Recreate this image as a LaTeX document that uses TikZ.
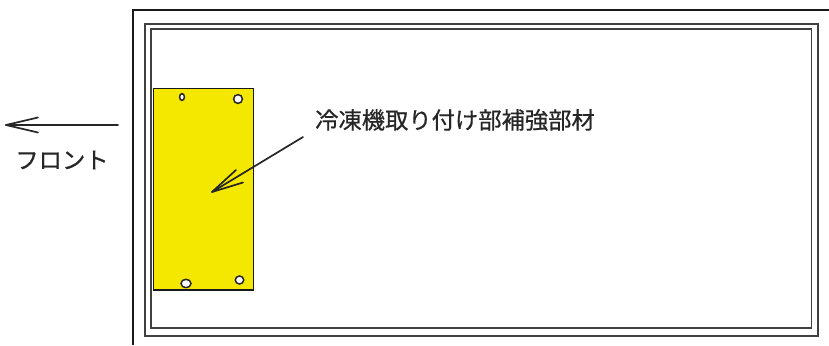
\documentclass[tikz,border=0pt]{standalone}
\usepackage{fontspec}
\setmainfont{Noto Sans CJK JP}[FakeBold=0.6]
\definecolor{plateyellow}{HTML}{F5E800}
\begin{document}
\begin{tikzpicture}[x=1pt,y=-1pt,
  frameline/.style={draw=black!90,line width=2pt},
  thinframe/.style={draw=black!75,line width=1.9pt},
  panel/.style={draw=black!90,line width=1.8pt,fill=plateyellow,minimum width=100pt,minimum height=201.5pt,inner sep=0pt},
  hole/.style={draw=black!85,fill=white,line width=1.5pt},
  lbl/.style={inner sep=0pt,text=black!85},
  ptr/.style={draw=black!85,line width=1.7pt,line cap=round,line join=round}]
\useasboundingbox (0,0) rectangle (829,345);
\fill[white] (0,0) rectangle (829,345);
\draw[frameline] (132.5,345) -- (132.5,10) -- (829,10);
\draw[thinframe] (145,24) rectangle (818,336);
\draw[thinframe] (150.7,29) rectangle (811.5,328);
\node[panel] (plate) at (203.5,189.3) {};
\draw[hole] (182,97) ellipse (2.4 and 3.4);
\draw[hole] (238,99) ellipse (4.4 and 4.4);
\draw[hole] (186,283.5) ellipse (5 and 4.2);
\draw[hole] (239.5,280) ellipse (4.2 and 4);
\node[lbl,font=\fontsize{23.3}{26}\selectfont] (part) at (455,120) {冷凍機取り付け部補強部材};
\node[lbl,font=\fontsize{23.3}{26}\selectfont] (front) at (62,160) {フロント};
\coordinate (fs) at (118,125);
\coordinate (ft) at (6,125);
\coordinate (ps) at (303,137);
\coordinate (pt) at (212,192);
\draw[ptr] (fs) -- (ft);
\draw[ptr] (38,117.5) -- (ft) -- (38,132.5);
\draw[ptr] (ps) -- (pt);
\draw[ptr] (236,170) -- (pt) -- (243,182.5);
\end{tikzpicture}
\end{document}
